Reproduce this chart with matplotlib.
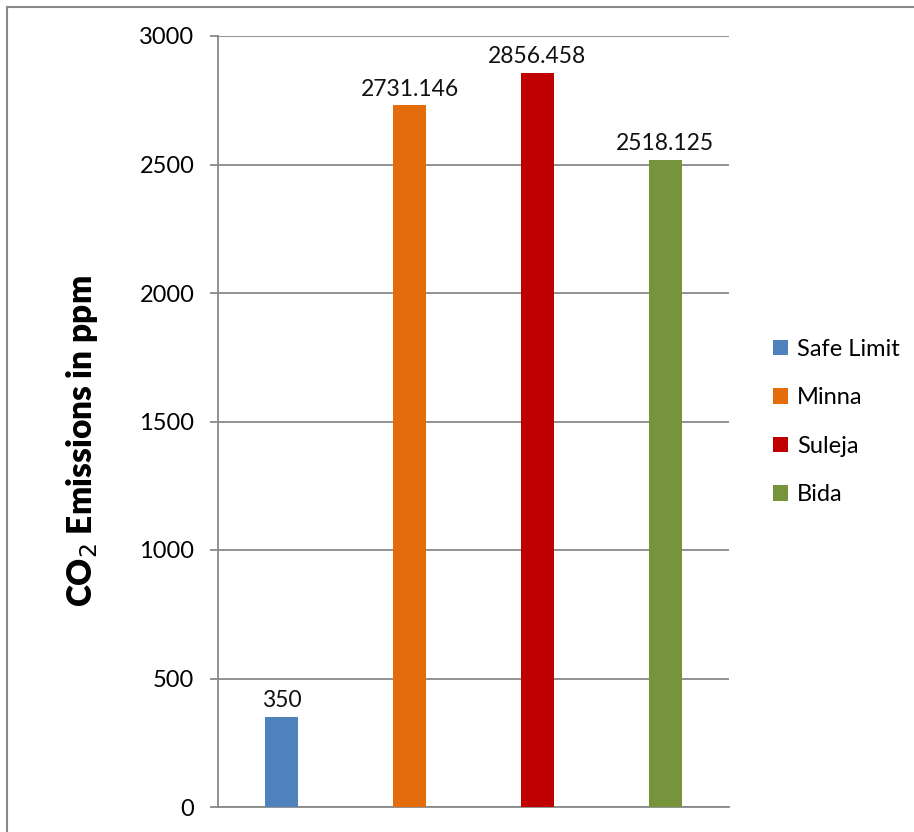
import matplotlib.pyplot as plt
from matplotlib.lines import Line2D

categories = ["Safe Limit", "Minna", "Suleja", "Bida"]
values = [350, 2731.146, 2856.458, 2518.125]
value_labels = ["350", "2731.146", "2856.458", "2518.125"]
colors = ["#4F81BD", "#E46C0A", "#C00000", "#77933C"]
yticks = [0, 500, 1000, 1500, 2000, 2500, 3000]

plt.rcParams["font.family"] = ["Lato", "DejaVu Sans"]
GRID = "#898989"

fig = plt.figure(figsize=(9.14, 8.32), dpi=100)
ax = fig.add_axes([218 / 914, 1 - 807 / 832, (729 - 218) / 914, (807 - 36) / 832])

for i, (cat, val, col, lab) in enumerate(zip(categories, values, colors, value_labels)):
    bars = ax.bar(i, val, width=0.26, color=col, label=cat, zorder=3)
    ax.bar_label(bars, labels=[lab], padding=4, fontsize=16.5, color="#111111")

ax.set_xlim(-0.5, 3.5)
ax.set_ylim(0, 3000)
ax.set_yticks(yticks)
ax.set_yticklabels([str(t) for t in yticks], fontsize=17)
ax.set_xticks([])
ax.yaxis.grid(True, color=GRID, linewidth=1.3, zorder=0)
ax.tick_params(axis="y", length=6, width=1.3, color=GRID, pad=11)

for side in ["top", "right"]:
    ax.spines[side].set_visible(False)
for side in ["left", "bottom"]:
    ax.spines[side].set_color(GRID)
    ax.spines[side].set_linewidth(1.3)

ax.set_ylabel("CO$_2$ Emissions in ppm", fontsize=24, fontweight="heavy")
ax.yaxis.set_label_coords((82 - 218) / 511, (807 - 441) / 771)
ax.yaxis.label.set_va("center")

fig.legend(
    loc="center left",
    bbox_to_anchor=(752 / 914, 1 - 422 / 832),
    frameon=False,
    fontsize=17,
    handlelength=0.62,
    handleheight=0.62,
    handletextpad=0.4,
    labelspacing=1.17,
)

# outer chart frame (only top and left edges fall inside the picture)
fig.add_artist(Line2D([6.5 / 914, 6.5 / 914], [0, 1 - 6.5 / 832], color=GRID, linewidth=1.5))
fig.add_artist(Line2D([6.5 / 914, 1], [1 - 6.5 / 832, 1 - 6.5 / 832], color=GRID, linewidth=1.5))

fig.savefig("out.png", dpi=100)
